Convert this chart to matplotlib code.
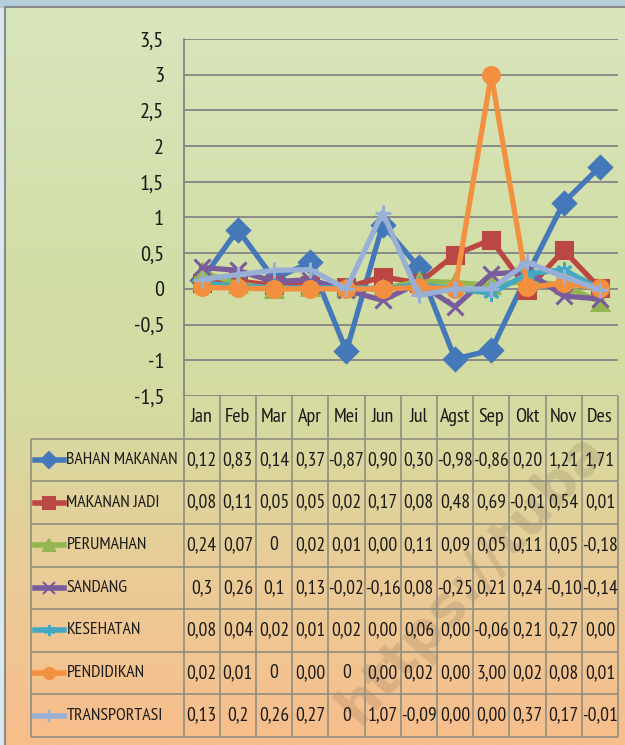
import numpy as np
import matplotlib
matplotlib.use('Agg')
import matplotlib.pyplot as plt
from matplotlib.colors import LinearSegmentedColormap
from matplotlib.patches import Rectangle

plt.rcParams['font.family'] = ['PT Sans Narrow', 'Roboto Condensed', 'DejaVu Sans']

months = ['Jan', 'Feb', 'Mar', 'Apr', 'Mei', 'Jun', 'Jul', 'Agst', 'Sep', 'Okt', 'Nov', 'Des']

# values as printed in the data table (decimal comma)
bahan_makanan = '0,12 0,83 0,14 0,37 -0,87 0,90 0,30 -0,98 -0,86 0,20 1,21 1,71'.split()
makanan_jadi = '0,08 0,11 0,05 0,05 0,02 0,17 0,08 0,48 0,69 -0,01 0,54 0,01'.split()
perumahan = '0,24 0,07 0 0,02 0,01 0,00 0,11 0,09 0,05 0,11 0,05 -0,18'.split()
sandang = '0,3 0,26 0,1 0,13 -0,02 -0,16 0,08 -0,25 0,21 0,24 -0,10 -0,14'.split()
kesehatan = '0,08 0,04 0,02 0,01 0,02 0,00 0,06 0,00 -0,06 0,21 0,27 0,00'.split()
pendidikan = '0,02 0,01 0 0,00 0 0,00 0,02 0,00 3,00 0,02 0,08 0,01'.split()
transportasi = '0,13 0,2 0,26 0,27 0 1,07 -0,09 0,00 0,00 0,37 0,17 -0,01'.split()

series = [
    ('BAHAN MAKANAN', bahan_makanan, '#4578b8', 'D'),
    ('MAKANAN JADI', makanan_jadi, '#bb4744', 's'),
    ('PERUMAHAN', perumahan, '#94b650', '^'),
    ('SANDANG', sandang, '#7a5c9c', 'x'),
    ('KESEHATAN', kesehatan, '#44a8c3', (6, 2, 0)),
    ('PENDIDIKAN', pendidikan, '#f39040', 'o'),
    ('TRANSPORTASI', transportasi, '#98afd6', '+'),
]


def num(s):
    return float(s.replace(',', '.'))


W, H = 625, 745
fig = plt.figure(figsize=(W / 100, H / 100), dpi=100)

# background: slide strip + gradient chart area
bg = fig.add_axes([0, 0, 1, 1])
bg.set_xlim(0, W)
bg.set_ylim(H, 0)
bg.axis('off')
bg.add_patch(Rectangle((0, 0), W, H, color='#dbe8ee', zorder=0))
bg.add_patch(Rectangle((0, 0), W, 7, color='#b4cfdb', zorder=0))
cmap = LinearSegmentedColormap.from_list(
    'bg', [(0, '#d9e5bc'), (0.38, '#d1dea6'), (0.56, '#d6daa0'),
           (0.78, '#ebcb96'), (1, '#f8bd8b')])
bg.imshow(np.linspace(0, 1, 256)[:, None], cmap=cmap, extent=(5, W, H, 7),
          aspect='auto', zorder=1)
bg.plot([5, 5], [7, H], color='#8a8a8a', lw=1.5, zorder=2)
bg.plot([5, W], [7, 7], color='#8a8a8a', lw=1.5, zorder=2)

# faint watermark behind the table
bg.text(358, 726, 'https://tuba', rotation=48, rotation_mode='anchor', fontsize=40,
        family='DejaVu Sans', fontweight='bold', color='#7a6552', alpha=0.2,
        ha='left', va='baseline', zorder=3)

# plot area
L, R, T, B = 183.5, 618, 39, 396
ax = fig.add_axes([L / W, 1 - B / H, (R - L) / W, (B - T) / H])
ax.patch.set_alpha(0)
x = np.arange(len(months))
for name, vals, c, mk in series:
    ax.plot(x, [num(v) for v in vals], color=c, lw=3.8, marker=mk, ms=11.5,
            mfc=c, mec=c, mew=2.2, clip_on=False)
ax.set_xlim(-0.5, 11.5)
ax.set_ylim(-1.5, 3.5)
yt = np.round(np.arange(-1.5, 3.6, 0.5), 1)
ax.set_yticks(yt)
ax.set_yticklabels([f'{v:g}'.replace('.', ',') for v in yt], fontsize=16, color='#1a1a1a')
ax.set_xticks([])
ax.grid(axis='y', color='#858585', lw=1.3)
ax.set_axisbelow(True)
for s in ['top', 'right', 'bottom']:
    ax.spines[s].set_visible(False)
ax.spines['left'].set_color('#858585')
ax.spines['left'].set_linewidth(1.3)
ax.tick_params(axis='y', length=0, pad=14)

# data table
TL, TB = 31, 737
tab = fig.add_axes([TL / W, 1 - TB / H, (R - TL) / W, (TB - B) / H])
x0 = -0.5 - (L - TL) / ((R - L) / 12)
tab.set_xlim(x0, 11.5)
tab.set_ylim(8, 0)
tab.axis('off')
lc = '#8f8f80'
tab.hlines(np.arange(1, 9), x0, 11.5, color=lc, lw=1.2, clip_on=False)
tab.vlines(np.arange(-0.5, 12), 0, 8, color=lc, lw=1.2, clip_on=False)
tab.vlines(x0, 1, 8, color=lc, lw=1.2, clip_on=False)

for i, m in enumerate(months):
    tab.text(i, 0.5, m, ha='center', va='center', fontsize=14.5, color='#1a1a1a')

for r, (name, vals, c, mk) in enumerate(series):
    y = r + 1.5
    tab.plot([x0 + 0.11, x0 + 0.91], [y, y], color=c, lw=4, clip_on=False)
    tab.plot([x0 + 0.51], [y], marker=mk, ms=8, color=c, mfc=c, mec=c, mew=1.5, clip_on=False)
    tab.text(x0 + 0.98, y, name, ha='left', va='center', fontsize=12.8, color='#1a1a1a')
    for i, v in enumerate(vals):
        tab.text(i, y, v, ha='center', va='center', fontsize=14, color='#1a1a1a')

fig.savefig('out.png', dpi=100)
